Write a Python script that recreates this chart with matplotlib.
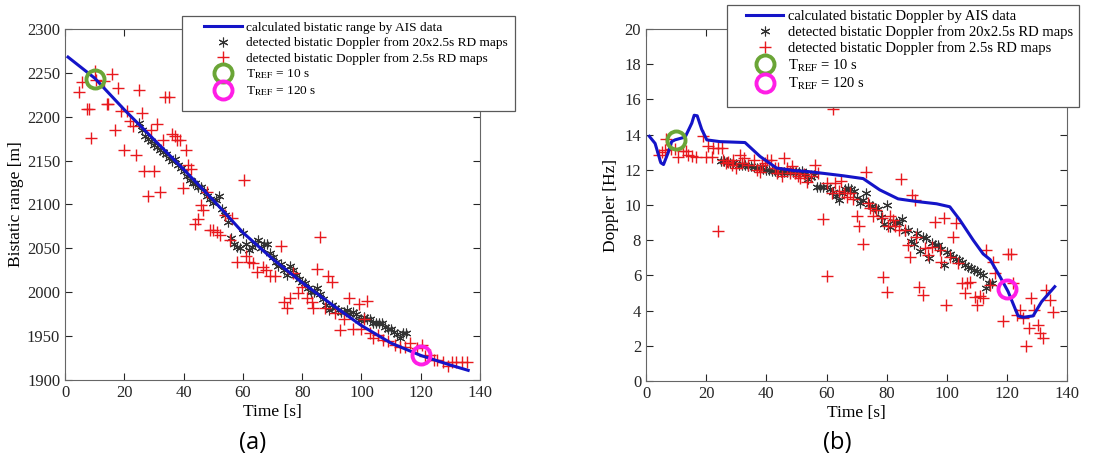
import numpy as np
import matplotlib
matplotlib.use("Agg")
import matplotlib.pyplot as plt
from matplotlib.patches import Rectangle

plt.rcParams["font.family"] = ["Liberation Serif", "DejaVu Serif"]
plt.rcParams["mathtext.fontset"] = "stix"

# ---- (a) bistatic range ----
range_line_t = [1, 10, 20, 30, 40, 50, 60, 70, 80, 90, 100, 110, 120, 130, 136]
range_line_v = [2268, 2244, 2208, 2174, 2140, 2105, 2068, 2038, 2011, 1986, 1962, 1942, 1928, 1917, 1911]

range_star_t = list(range(25, 116))
range_star_v = [2193, 2185, 2178, 2175, 2172, 2168, 2165, 2162, 2160, 2157, 2153, 2150, 2152, 2145,
                2142, 2138, 2133, 2128, 2125, 2124, 2120, 2120, 2115, 2110, 2106, 2102, 2105, 2110,
                2095, 2088, 2080, 2062, 2055, 2052, 2050, 2067, 2055, 2048, 2052, 2055, 2060, 2050,
                2055, 2055, 2045, 2040, 2035, 2030, 2032, 2025, 2020, 2030, 2025, 2020, 2015, 2012,
                2010, 2005, 2000, 2000, 2005, 1998, 1992, 1985, 1980, 1985, 1982, 1980, 1978, 1978,
                1980, 1975, 1978, 1975, 1968, 1970, 1972, 1970, 1970, 1965, 1965, 1965, 1965, 1960,
                1958, 1958, 1955, 1952, 1948, 1953, 1953]

range_plus_t = [4.8, 5.6, 7.3, 8, 8.8, 10, 10.5, 13, 14, 14.6, 16, 17, 18, 18.8, 20, 20.8, 22, 22.8,
                24, 25, 26, 26.8, 27.9, 29, 30.1, 31, 32, 33, 33.7, 35.2, 36, 37, 37.7, 38.8, 39.9,
                40.8, 41.6, 42.4, 43.9, 45, 45.9, 46.4, 48, 48.9, 50, 51.4, 52.3, 54, 55.7, 56.2,
                57.9, 60.2, 61, 62, 63.5, 64.9, 66.9, 67.8, 69.2, 70.8, 72.9, 73.7, 75, 75.9, 77,
                78.5, 79.8, 81.5, 83.2, 83.8, 85.1, 86, 87.7, 88.8, 90, 91, 92.8, 94.2, 95.8, 97.3,
                99, 99.9, 101, 101.8, 102.9, 104, 105.7, 107.4, 109, 111.3, 113, 114.7, 116.4,
                118.6, 120.3, 121.4, 123, 124.3, 125.4, 127.6, 129.3, 130.4, 132, 133.8, 135.5]
range_plus_v = [2228, 2240, 2209, 2209, 2176, 2252, 2242, 2241, 2215, 2215, 2249, 2185, 2233, 2207,
                2162, 2207, 2195, 2189, 2156, 2231, 2204, 2138, 2110, 2185, 2138, 2192, 2114, 2174,
                2222, 2222, 2180, 2178, 2174, 2173, 2119, 2162, 2145, 2141, 2078, 2084, 2099, 2094,
                2114, 2071, 2071, 2069, 2065, 2088, 2060, 2085, 2035, 2128, 2041, 2035, 2033, 2023,
                2029, 2025, 2018, 2018, 2053, 1989, 1982, 1994, 2022, 1999, 2006, 1993, 1989, 1982,
                2027, 2063, 1982, 2018, 2012, 1976, 1957, 1970, 1994, 1958, 1987, 1958, 1970, 1990,
                1953, 1948, 1951, 1946, 1944, 1940, 1938, 1938, 1942, 1936, 1940, 1927, 1929, 1923,
                1923, 1921, 1916, 1921, 1921, 1921, 1921]

range_ref_t = [10, 120]
range_ref_v = [2243, 1928]

# ---- (b) bistatic Doppler ----
dop_line_t = [1.1, 3, 4.9, 5.8, 7.4, 8.5, 9.6, 13, 15.2, 16, 17, 18.5, 20.2, 24.6, 32.9, 37.9, 43.4,
              49, 53.9, 58.9, 65.6, 72.2, 77.7, 83.8, 89.9, 96.6, 101, 104.3, 108.8, 112.1, 114.4,
              117.7, 120.4, 123.7, 125.4, 128.7, 131.5, 135.9]
dop_line_v = [13.9, 13.5, 12.4, 12.3, 13.0, 13.6, 13.7, 13.86, 14.65, 15.1, 15.07, 14.3, 13.7, 13.6,
              13.55, 12.76, 12.1, 11.96, 11.9, 11.8, 11.66, 11.5, 10.86, 10.35, 10.2, 10.07, 9.9,
              9.16, 8.0, 7.22, 6.9, 5.93, 5.08, 3.7, 3.62, 3.7, 4.5, 5.36]

dop_star_t = list(range(25, 116))
dop_star_v = [12.5, 12.5, 12.45, 12.4, 12.4, 12.35, 12.3, 12.3, 12.25, 12.2, 12.2, 12.15, 12.1, 12.1,
              12.05, 12.0, 12.0, 11.95, 11.95, 11.9, 11.9, 11.9, 11.85, 11.85, 11.85, 11.85, 11.85,
              11.95, 11.75, 11.5, 11.6, 11.7, 11.0, 11.0, 11.05, 11.0, 10.9, 10.75, 10.5, 10.3,
              10.7, 10.9, 10.95, 10.9, 10.8, 10.4, 10.1, 10.3, 10.7, 10.05, 9.95, 9.85, 9.75, 9.3,
              8.9, 10.0, 8.75, 9.1, 9.05, 9.0, 9.2, 8.5, 8.6, 7.95, 7.8, 8.4, 7.4, 8.2, 8.1, 7.0,
              7.85, 7.75, 7.7, 7.5, 6.6, 7.35, 7.2, 7.05, 6.95, 6.85, 6.75, 6.6, 6.5, 6.4, 6.3,
              6.25, 6.15, 6.0, 5.3, 5.55, 5.55]

dop_plus_t = [4.4, 5.2, 6.6, 6.3, 8.3, 9.6, 10.7, 12.4, 13.3, 14, 15.2, 16.6, 18.8, 19.8, 20.7, 21.8,
              22.4, 24, 24, 25.1, 25.7, 26.6, 27.4, 28.5, 29, 29.9, 31.2, 31.8, 32.6, 34, 35.9,
              36.8, 37.9, 38.4, 39.5, 40.3, 41.4, 42.9, 43.4, 44, 45.1, 46, 46.7, 47.8, 48.4, 49.5,
              50.6, 51.2, 52.5, 53.4, 54.7, 56.2, 57.3, 58.9, 60, 60, 61.7, 62.2, 62.8, 64.2, 64.9,
              65.8, 66.7, 67.8, 68.9, 70, 70.9, 72, 73.1, 73.9, 74.4, 75.5, 76.6, 78.3, 78.9, 80,
              80.5, 81.1, 82.2, 82.7, 84.2, 84.9, 86, 87.2, 87.7, 88.3, 89.4, 89.9, 90.8, 92.1,
              92.7, 93.8, 95, 96, 97.7, 98.2, 99, 99.9, 101, 102.1, 103, 103.8, 104.9, 106, 106.8,
              107.7, 109.3, 109.9, 111, 111.9, 113.2, 114.5, 115.4, 116, 118.7, 120.4, 121.5, 122,
              123.2, 124.3, 125.4, 126.3, 127.4, 128.1, 128.9, 130.4, 130.9, 132, 133.1, 134.2,
              135.3]
dop_plus_v = [12.85, 13.0, 13.74, 13.1, 13.2, 13.2, 12.7, 13.04, 13.04, 12.85, 12.76, 12.72, 13.9,
              12.72, 13.33, 12.72, 13.23, 13.23, 8.5, 13.23, 12.53, 12.38, 12.47, 12.28, 12.57,
              12.1, 12.85, 12.38, 12.66, 12.28, 12.57, 12.0, 11.9, 12.28, 12.4, 12.57, 12.53, 12.1,
              11.8, 12.1, 11.66, 12.66, 12.1, 11.8, 12.19, 11.8, 11.62, 11.53, 11.77, 11.28, 11.62,
              12.25, 11.8, 9.2, 5.97, 11.24, 10.7, 15.45, 11.24, 10.82, 11.34, 10.7, 10.48, 10.67,
              10.33, 9.38, 8.78, 7.8, 11.89, 10.1, 9.82, 9.35, 9.73, 9.25, 5.9, 5.08, 8.78, 9.35,
              9.16, 8.78, 8.6, 11.47, 8.6, 7.73, 7.07, 10.58, 10.29, 8.2, 5.36, 4.9, 7.55, 7.17,
              7.64, 9.06, 7.45, 6.79, 9.25, 4.32, 7.07, 8.2, 8.97, 6.69, 5.59, 4.99, 5.59, 5.65,
              4.8, 4.32, 4.83, 4.7, 7.45, 5.46, 6.79, 6.12, 3.43, 7.22, 7.22, 5.59, 3.75, 4.04,
              3.56, 2.0, 3.0, 4.7, 4.04, 3.18, 2.7, 2.43, 5.17, 4.6, 3.94]

dop_ref_t = [10, 120]
dop_ref_v = [13.7, 5.2]

ASTERISK = (6, 2, 0)
LINE_C = "#1414c8"


def draw_panel(ax, line_t, line_v, star_t, star_v, plus_t, plus_v, ref_t, ref_v, line_label):
    ax.plot(line_t, line_v, color=LINE_C, lw=2.2, label=line_label, zorder=4)
    ax.plot(star_t, star_v, ls="none", marker=ASTERISK, ms=7, mew=0.8, color="0.2",
            label="detected bistatic Doppler from 20x2.5s RD maps", zorder=3)
    ax.plot(plus_t, plus_v, ls="none", marker="+", ms=8, mew=1.0, color="#e8191e",
            label="detected bistatic Doppler from 2.5s RD maps", zorder=3)
    ax.plot(ref_t[0], ref_v[0], ls="none", marker="o", ms=13, mfc="none", mew=2.8,
            color="#6aa536", label=r"T$_{\mathrm{REF}}$ = 10 s", zorder=5)
    ax.plot(ref_t[1], ref_v[1], ls="none", marker="o", ms=13, mfc="none", mew=2.8,
            color="#ff1ee6", label=r"T$_{\mathrm{REF}}$ = 120 s", zorder=5)
    ax.set_xlim(0, 140)
    ax.set_xticks(np.arange(0, 141, 20))
    ax.tick_params(direction="in", top=True, right=True, labelsize=12, colors="0.15", length=5)
    for s in ax.spines.values():
        s.set_color("0.4")
        s.set_linewidth(0.8)
    ax.set_xlabel("Time [s]", fontsize=12.5, labelpad=2)


fig = plt.figure(figsize=(11.12, 4.61), dpi=100)
ax1 = fig.add_axes([0.0585, 0.1757, 0.3732, 0.7614])
ax2 = fig.add_axes([0.581, 0.1735, 0.3786, 0.7636])

draw_panel(ax1, range_line_t, range_line_v, range_star_t, range_star_v, range_plus_t, range_plus_v,
           range_ref_t, range_ref_v, "calculated bistatic range by AIS data")
ax1.set_ylim(1900, 2300)
ax1.set_yticks(np.arange(1900, 2301, 50))
ax1.set_ylabel("Bistatic range [m]", fontsize=12.5, labelpad=2)

draw_panel(ax2, dop_line_t, dop_line_v, dop_star_t, dop_star_v, dop_plus_t, dop_plus_v,
           dop_ref_t, dop_ref_v, "calculated bistatic Doppler by AIS data")
ax2.set_ylim(0, 20)
ax2.set_yticks(np.arange(0, 21, 2))
ax2.set_ylabel("Doppler [Hz]", fontsize=12.5, labelpad=4)

# legend boxes sit over the top edge of the axes, drawn as figure artists
legend_specs = [
    (ax1, (0.1835, 0.953), 9.6, 2.85, 0.22, [0.1637, 0.7592, 0.2995, 0.2061]),
    (ax2, (0.6709, 0.979), 10.5, 2.55, 0.16, [0.6538, 0.7679, 0.3165, 0.2213]),
]
for ax, anchor, fs, hl, sp, box in legend_specs:
    frame = Rectangle((box[0], box[1]), box[2], box[3], transform=fig.transFigure,
                      facecolor="white", edgecolor="0.35", lw=0.9, zorder=5)
    fig.add_artist(frame)
    handles, labels = ax.get_legend_handles_labels()
    leg = fig.legend(handles, labels, loc="upper left", bbox_to_anchor=anchor,
                     fontsize=fs, frameon=False, handlelength=hl, handletextpad=0.3,
                     labelspacing=sp, borderpad=0, borderaxespad=0)
    leg.set_zorder(6)

fig.text(0.2275, 0.04, "(a)", ha="center", va="center", fontsize=17, family="Open Sans")
fig.text(0.7525, 0.04, "(b)", ha="center", va="center", fontsize=17, family="Open Sans")

fig.savefig("out.png", dpi=100)
